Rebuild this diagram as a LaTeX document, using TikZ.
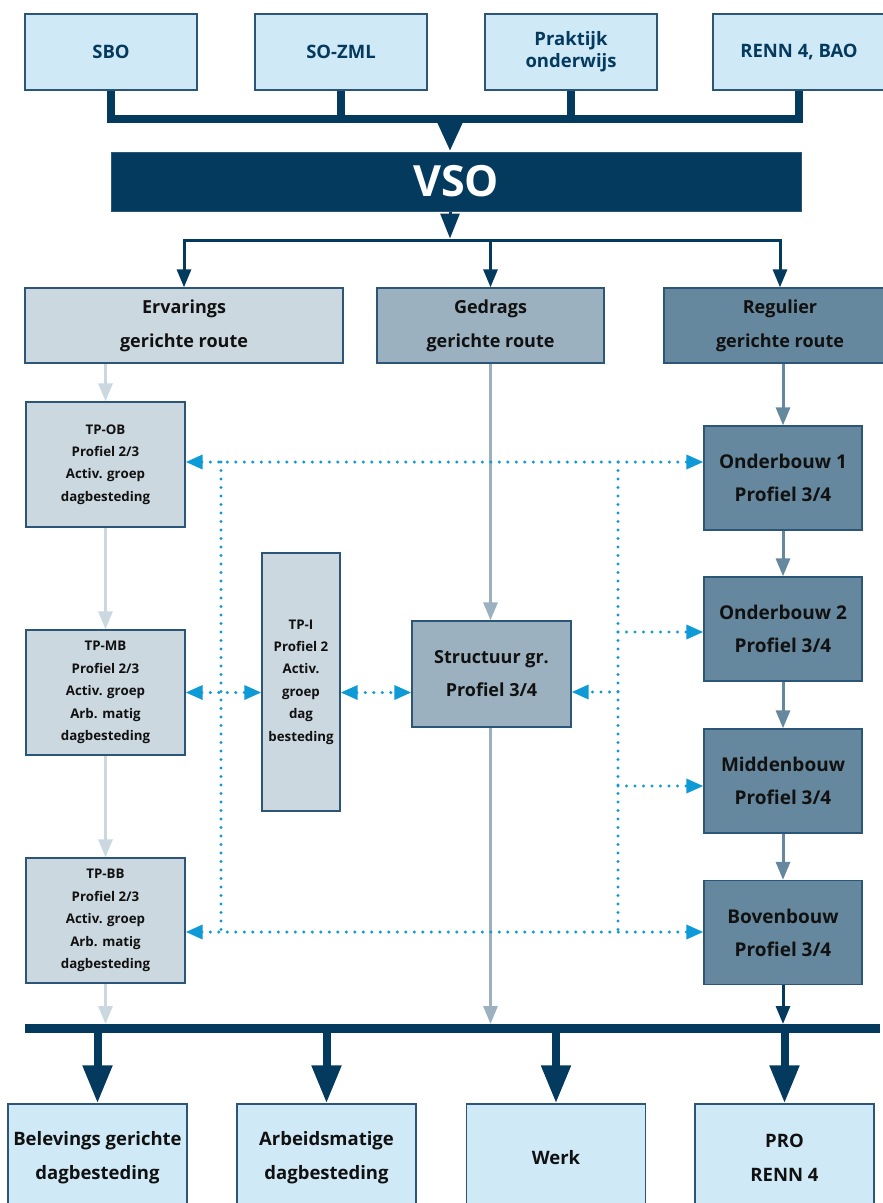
\documentclass[tikz,border=0pt]{standalone}
\usepackage{fontspec}
\setmainfont{Open Sans}
\usetikzlibrary{arrows.meta}
\definecolor{navy}{HTML}{053A5F}
\definecolor{bord}{HTML}{2B5677}
\definecolor{lblue}{HTML}{CFE9F7}
\definecolor{cone}{HTML}{CBD8E0}
\definecolor{ctwo}{HTML}{9BB1BF}
\definecolor{cthree}{HTML}{66889E}
\definecolor{dotblue}{HTML}{0E9AD7}
\definecolor{txt}{HTML}{111111}
\tikzset{
  basebox/.style={draw=bord, line width=1.3pt, align=center, inner sep=0pt, text=txt},
  topbox/.style={basebox, fill=lblue, minimum width=172pt, minimum height=76pt,
     text=navy, font=\bfseries\fontsize{18.5}{22}\selectfont},
  routebox/.style={basebox, minimum height=75pt, font=\bfseries\fontsize{18}{34}\selectfont},
  tpbox/.style={basebox, fill=cone, minimum width=159pt, minimum height=125pt,
     font=\bfseries\fontsize{13.3}{22.4}\selectfont},
  rbox/.style={basebox, fill=cthree, minimum width=158pt, minimum height=104pt,
     font=\bfseries\fontsize{19}{33}\selectfont},
  botbox/.style={basebox, fill=lblue, minimum width=179pt, minimum height=108pt,
     font=\bfseries\fontsize{18.5}{34}\selectfont},
  thickline/.style={draw=navy, line width=8pt},
  bigarrow/.style={draw=navy, line width=8pt, -{Triangle[width=28pt,length=38pt]}},
  navarrow/.style={draw=navy, line width=3pt, -{Triangle[width=14pt,length=18pt]}},
  lgarrow/.style={draw=cone, line width=3pt, -{Triangle[width=14pt,length=18pt]}},
  gdarrow/.style={draw=ctwo, line width=3pt, -{Triangle[width=14pt,length=18pt]}},
  rgarrow/.style={draw=cthree, line width=3pt, -{Triangle[width=14pt,length=18pt]}},
  dotline/.style={draw=dotblue, line width=3.4pt, line cap=round, dash pattern=on 0pt off 8.5pt},
  dotone/.style={dotline, -{Triangle[width=14pt,length=17pt]}},
  dottwo/.style={dotline, {Triangle[width=14pt,length=17pt]}-{Triangle[width=14pt,length=17pt]}},
}
\begin{document}
\begin{tikzpicture}[x=1pt,y=-1pt]
\useasboundingbox (0,0) rectangle (883,1203);

% top boxes
\node[topbox] (sbo) at (111,52) {SBO};
\node[topbox] (sozml) at (341,52) {SO-ZML};
\node[topbox] (prak) at (571,52) {Praktijk\\onderwijs};
\node[topbox] (renn) at (799,52) {RENN 4, BAO};

% VSO
\node[draw=bord, line width=1pt, fill=navy, minimum width=690pt, minimum height=59pt, inner sep=0pt,
      text=white, font=\bfseries\fontsize{43}{43}\selectfont] (vso) at (456,181.5) {VSO};

\coordinate (hub) at (450,119);
\draw[thickline] (sbo.south) |- (renn.south |- hub) -- (renn.south);
\draw[thickline] (sozml.south) -- (sozml.south |- hub);
\draw[thickline] (prak.south) -- (prak.south |- hub);
\draw[draw=navy, line width=8pt, -{Triangle[width=24pt,length=30pt]}] (hub) -- (vso.north -| hub);

% route boxes
\node[routebox, fill=cone, minimum width=318pt] (erv) at (184,325.5) {Ervarings\\gerichte route};
\node[routebox, fill=ctwo, minimum width=227pt] (ged) at (490.5,325.5) {Gedrags\\gerichte route};
\node[routebox, fill=cthree, minimum width=232pt] (reg) at (780,325.5) {Regulier\\gerichte route};

\coordinate (hubtwo) at (450,240);
\draw[draw=navy, line width=3pt, -{Triangle[width=19pt,length=25pt]}] (vso.south -| hub) -- ++(0,27);
\draw[navarrow] (hubtwo) -| (erv.north);
\draw[navarrow] (hubtwo) -| (ged.north);
\draw[navarrow] (hubtwo) -| (reg.north);

% left column
\node[tpbox] (tpob) at (105.5,464.5) {TP-OB\\Profiel 2/3\\Activ. groep\\dagbesteding};
\node[tpbox] (tpmb) at (105.5,692.5) {TP-MB\\Profiel 2/3\\Activ. groep\\Arb. matig\\dagbesteding};
\node[tpbox] (tpbb) at (105.5,920.5) {TP-BB\\Profiel 2/3\\Activ. groep\\Arb. matig\\dagbesteding};

% TP-I
\node[tpbox, minimum width=78pt, minimum height=258pt] (tpi) at (301,682) {TP-I\\Profiel 2\\Activ.\\groep\\dag\\besteding};

% Structuur
\node[basebox, fill=ctwo, minimum width=159pt, minimum height=106pt,
      font=\bfseries\fontsize{18}{33}\selectfont] (struct) at (491.5,674) {Structuur gr.\\Profiel 3/4};

% right column
\node[rbox] (obone) at (783,478) {Onderbouw 1\\Profiel 3/4};
\node[rbox] (obtwo) at (783,629) {Onderbouw 2\\Profiel 3/4};
\node[rbox] (mb) at (783,781) {Middenbouw\\Profiel 3/4};
\node[rbox] (bb) at (783,932.5) {Bovenbouw\\Profiel 3/4};

% bottom bar
\coordinate (barl) at (25,1028.5);
\coordinate (barr) at (880,1028.5);
\coordinate (bartop) at (450,1024);
\draw[draw=navy, line width=9pt] (barl) -- (barr);

% column arrows
\draw[lgarrow] (tpob.north |- erv.south) -- (tpob.north);
\draw[lgarrow] (tpob.south) -- (tpmb.north);
\draw[lgarrow] (tpmb.south) -- (tpbb.north);
\draw[lgarrow] (tpbb.south) -- (tpbb.south |- bartop);

\draw[gdarrow] (ged.south) -- (ged.south |- struct.north);
\draw[gdarrow] (struct.south -| ged.south) -- (ged.south |- bartop);

\draw[rgarrow] (obone.north |- reg.south) -- (obone.north);
\draw[rgarrow] (obone.south) -- (obtwo.north);
\draw[rgarrow] (obtwo.south) -- (mb.north);
\draw[rgarrow] (mb.south) -- (bb.north);
\draw[navarrow] (bb.south) -- (bb.south |- bartop);

% dotted connectors
\coordinate (dA) at (221,462);
\coordinate (dB) at (618,462);
\coordinate (dC) at (221,932);
\coordinate (dD) at (618,932);
\coordinate (dE) at (618,692);
\draw[dotline] (dA) -- (dC);
\draw[dotline] (dB) -- (dD);
\draw[dottwo] (tpob.east |- dA) -- (obone.west |- dA);
\draw[dottwo] (tpbb.east |- dC) -- (bb.west |- dC);
\draw[dotone] (dB |- 0,632) -- (obtwo.west |- 0,632);
\draw[dotone] (dB |- 0,786) -- (mb.west |- 0,786);
\draw[dotone] (dE) -- (struct.east |- dE);
\draw[dottwo] (tpmb.east) -- (tpi.west |- tpmb.east);
\draw[dottwo] (tpi.east |- tpmb.east) -- (struct.west |- tpmb.east);

% bottom boxes
\node[botbox] (bone) at (97.5,1158) {Belevings gerichte\\dagbesteding};
\node[botbox] (btwo) at (326.5,1158) {Arbeidsmatige\\dagbesteding};
\node[botbox] (bthree) at (556,1158) {Werk};
\node[botbox] (bfour) at (784.5,1158) {PRO\\RENN 4};

\draw[bigarrow] (bone.north |- barl) -- (bone.north);
\draw[bigarrow] (btwo.north |- barl) -- (btwo.north);
\draw[bigarrow] (bthree.north |- barl) -- (bthree.north);
\draw[bigarrow] (bfour.north |- barl) -- (bfour.north);
\end{tikzpicture}
\end{document}
